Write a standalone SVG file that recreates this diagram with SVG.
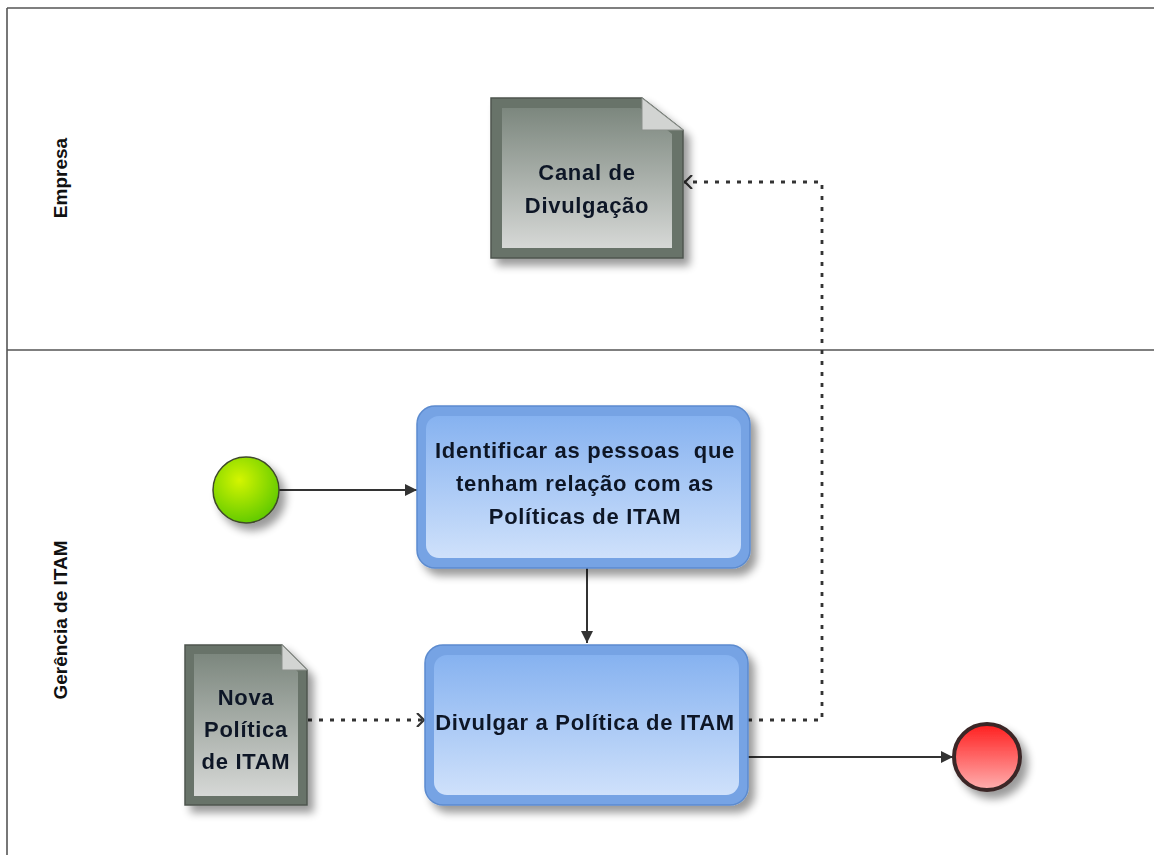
<svg xmlns="http://www.w3.org/2000/svg" width="1154" height="855" viewBox="0 0 1154 855">
<defs>
<linearGradient id="taskG" x1="0" y1="0" x2="0" y2="1"><stop offset="0" stop-color="#86b2f0"/><stop offset="1" stop-color="#cfe1fb"/></linearGradient>
<linearGradient id="docG" x1="0" y1="0" x2="0" y2="1"><stop offset="0" stop-color="#7c877e"/><stop offset="1" stop-color="#d6d8d6"/></linearGradient>
<radialGradient id="startG" cx="0.4" cy="0.35" r="0.7"><stop offset="0" stop-color="#d4f500"/><stop offset="1" stop-color="#5cc800"/></radialGradient>
<linearGradient id="endG" x1="0" y1="0" x2="0" y2="1"><stop offset="0" stop-color="#ff1e1e"/><stop offset="1" stop-color="#ffb0b0"/></linearGradient>
<filter id="sh" x="-20%" y="-20%" width="150%" height="150%"><feGaussianBlur in="SourceAlpha" stdDeviation="4"/><feOffset dx="6" dy="7"/><feComponentTransfer><feFuncA type="linear" slope="0.4"/></feComponentTransfer><feMerge><feMergeNode/><feMergeNode in="SourceGraphic"/></feMerge></filter>
<marker id="solidArrow" viewBox="0 0 12 12" refX="12" refY="6" markerWidth="12" markerHeight="12" orient="auto" markerUnits="userSpaceOnUse"><path d="M0,0 L12,6 L0,12 z" fill="#333"/></marker>
<marker id="openArrow" viewBox="0 0 10 14" refX="9" refY="7" markerWidth="10" markerHeight="14" orient="auto" markerUnits="userSpaceOnUse"><path d="M1,0 L8,7 L1,14" fill="none" stroke="#333" stroke-width="2.2"/></marker>
<style>
.lane{stroke:#555;stroke-width:1.6;fill:none}
.lbl{font-family:"Liberation Sans",Arial,sans-serif;font-weight:bold;font-size:19px;fill:#111;text-anchor:middle}
.txt{font-family:"Liberation Sans",Arial,sans-serif;font-weight:bold;font-size:22px;letter-spacing:0.7px;fill:#101828;text-anchor:middle;white-space:pre}
.seq{stroke:#333;stroke-width:2;fill:none}
.dot{stroke:#333;stroke-width:2.8;fill:none;stroke-dasharray:4 7}
.taskOut{fill:#76a3e4;stroke:#5c8bcf;stroke-width:1.5}
.taskIn{fill:url(#taskG)}
.docOut{fill:#687369;stroke:#4d564e;stroke-width:1.5}
.docIn{fill:url(#docG)}
.fold{fill:#d2d4d2;stroke:#8a8f8a;stroke-width:1}
</style>
</defs>
<rect width="1154" height="855" fill="#fff"/>
<g id="lanes">
<line class="lane" x1="7" y1="8" x2="1154" y2="8"/>
<line class="lane" x1="7" y1="350" x2="1154" y2="350"/>
<line class="lane" x1="7" y1="8" x2="7" y2="855"/>
<text class="lbl" transform="translate(67,178) rotate(-90)">Empresa</text>
<text class="lbl" transform="translate(67,620) rotate(-90)">Gerência de ITAM</text>
</g>
<g id="connectors">
<line class="seq" x1="279" y1="490" x2="417" y2="490" marker-end="url(#solidArrow)"/>
<line class="seq" x1="587" y1="568" x2="587" y2="643" marker-end="url(#solidArrow)"/>
<line class="seq" x1="748" y1="757" x2="953" y2="757" marker-end="url(#solidArrow)"/>
<line class="dot" x1="308" y1="720" x2="425" y2="720" marker-end="url(#openArrow)"/>
<polyline class="dot" points="748,720 822,720 822,182 684,182" marker-end="url(#openArrow)"/>
</g>
<g id="canal" filter="url(#sh)">
<path class="docOut" d="M491,98 L642,98 L683,130 L683,258 L491,258 Z"/>
<path class="docIn" d="M502,108 L640,108 L672,134 L672,248 L502,248 Z"/>
<path class="fold" d="M642,98 L683,130 L642,130 Z"/>
<text class="txt" x="587" y="180">Canal de</text>
<text class="txt" x="587" y="213">Divulgação</text>
</g>
<g id="nova" filter="url(#sh)">
<path class="docOut" d="M185,645 L282,645 L307,670 L307,805 L185,805 Z"/>
<path class="docIn" d="M194,654 L280,654 L298,672 L298,796 L194,796 Z"/>
<path class="fold" d="M282,645 L307,670 L282,670 Z"/>
<text class="txt" x="246" y="705">Nova</text>
<text class="txt" x="246" y="737">Política</text>
<text class="txt" x="246" y="769">de ITAM</text>
</g>
<g id="identificar" filter="url(#sh)">
<rect class="taskOut" x="417" y="406" width="333" height="162" rx="18"/>
<rect class="taskIn" x="426" y="416" width="315" height="142" rx="13"/>
<text class="txt" x="585" y="458" xml:space="preserve">Identificar as pessoas  que</text>
<text class="txt" x="585" y="491">tenham relação com as</text>
<text class="txt" x="585" y="524">Políticas de ITAM</text>
</g>
<g id="divulgar" filter="url(#sh)">
<rect class="taskOut" x="425" y="645" width="323" height="160" rx="18"/>
<rect class="taskIn" x="434" y="655" width="305" height="140" rx="13"/>
<text class="txt" x="585" y="730">Divulgar a Política de ITAM</text>
</g>
<g id="start" filter="url(#sh)">
<circle cx="246" cy="490" r="33" fill="url(#startG)" stroke="#3f4a2a" stroke-width="1.5"/>
</g>
<g id="end" filter="url(#sh)">
<circle cx="987" cy="757" r="33" fill="url(#endG)" stroke="#3b2626" stroke-width="4"/>
</g>
</svg>
